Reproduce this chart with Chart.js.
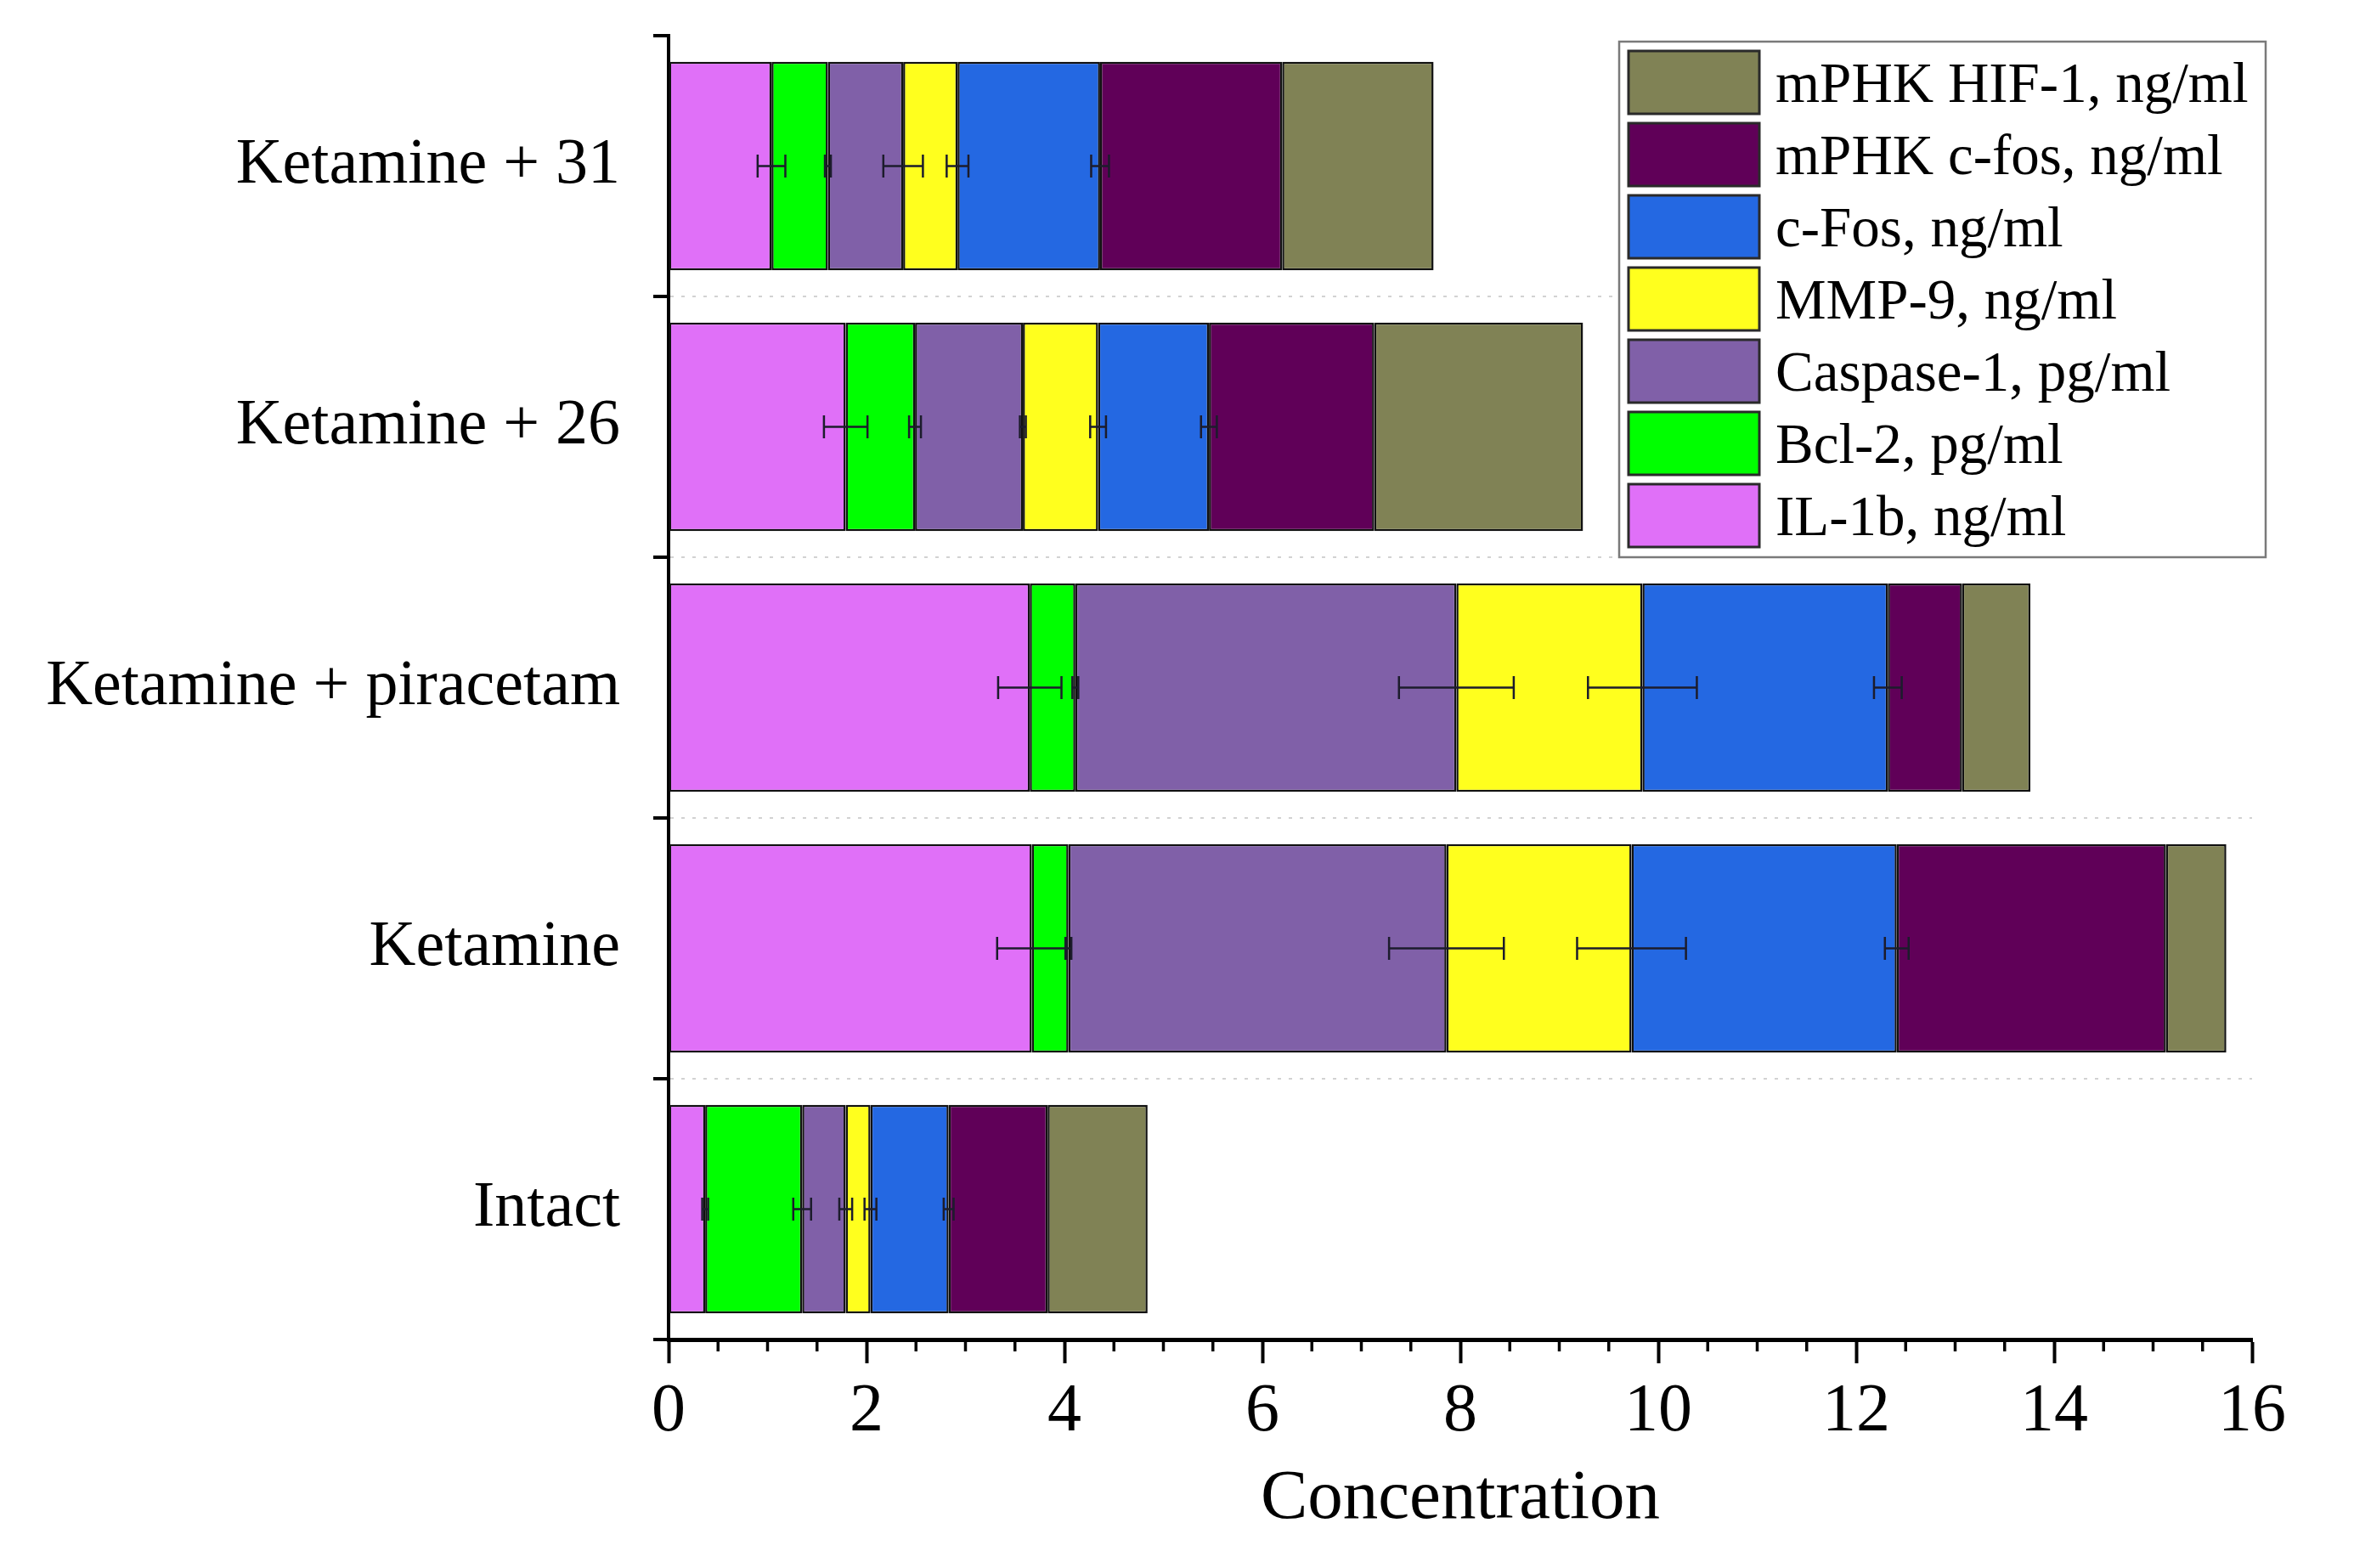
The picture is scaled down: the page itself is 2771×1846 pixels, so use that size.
<!DOCTYPE html>
<html>
<head>
<meta charset="utf-8">
<script src="https://cdn.jsdelivr.net/npm/chart.js@4.4.1/dist/chart.umd.min.js"></script>
<style>
html,body{margin:0;padding:0;background:#ffffff;overflow:hidden}
canvas{display:block}
</style>
</head>
<body>
<canvas id="chart" width="2771" height="1846" style="width:2771px;height:1846px"></canvas>
<script>
// ---------- data ----------
const categories = ['Ketamine + 31', 'Ketamine + 26', 'Ketamine + piracetam', 'Ketamine', 'Intact'];
const seriesNames = ['IL-1b, ng/ml', 'Bcl-2, pg/ml', 'Caspase-1, pg/ml', 'MMP-9, ng/ml', 'c-Fos, ng/ml', 'mPHK c-fos, ng/ml', 'mPHK HIF-1, ng/ml'];
const il1b      = [1.04, 1.79, 3.65, 3.67, 0.37];
const bcl2      = [0.57, 0.70, 0.46, 0.37, 0.98];
const caspase1  = [0.76, 1.09, 3.85, 3.82, 0.44];
const mmp9      = [0.55, 0.76, 1.88, 1.87, 0.25];
const cfos      = [1.44, 1.12, 2.48, 2.68, 0.79];
const mrnaCfos  = [1.84, 1.67, 0.75, 2.72, 1.00];
const mrnaHif1  = [1.53, 2.11, 0.69, 0.61, 1.01];
const il1bErr     = [0.14, 0.22, 0.32, 0.35, 0.03];
const bcl2Err     = [0.03, 0.06, 0.03, 0.03, 0.09];
const caspase1Err = [0.20, 0.03, 0.58, 0.58, 0.065];
const mmp9Err     = [0.11, 0.08, 0.55, 0.55, 0.06];
const cfosErr     = [0.09, 0.08, 0.14, 0.12, 0.05];
const xTickValues = [0, 2, 4, 6, 8, 10, 12, 14, 16];
const xTitle = 'Concentration';

const seriesValues = [il1b, bcl2, caspase1, mmp9, cfos, mrnaCfos, mrnaHif1];
const seriesErrors = [il1bErr, bcl2Err, caspase1Err, mmp9Err, cfosErr, null, null];

// ---------- styles ----------
const seriesColors = ['#E070F8', '#00FF00', '#8060A8', '#FFFF1E', '#2468E2', '#600058', '#808255'];
const FONT = "'Liberation Serif', 'Times New Roman', serif";

const datasets = seriesValues.map((vals, i) => ({
  label: seriesNames[i],
  data: vals,
  backgroundColor: seriesColors[i],
  borderColor: '#111111',
  borderWidth: 2.5,
  borderSkipped: false,
  barPercentage: 0.8,
  categoryPercentage: 1.0
}));

// error bars at the cumulative end of each stacked segment
const errorBarPlugin = {
  id: 'errorBars',
  afterDatasetsDraw(chart) {
    const {ctx, scales: {x, y}} = chart;
    ctx.save();
    ctx.strokeStyle = '#1c1c2c';
    ctx.lineWidth = 2.5;
    seriesErrors.forEach((errs, si) => {
      if (!errs) return;
      categories.forEach((c, ci) => {
        let end = 0;
        for (let k = 0; k <= si; k++) end += seriesValues[k][ci];
        const e = errs[ci];
        const x1 = x.getPixelForValue(end - e);
        const x2 = x.getPixelForValue(end + e);
        const py = y.getPixelForValue(ci);
        const h = 13.5;
        ctx.beginPath();
        ctx.moveTo(x1, py); ctx.lineTo(x2, py);
        ctx.moveTo(x1, py - h); ctx.lineTo(x1, py + h);
        ctx.moveTo(x2, py - h); ctx.lineTo(x2, py + h);
        ctx.stroke();
      });
    });
    ctx.restore();
  }
};

// minor ticks on the x axis
const minorTickPlugin = {
  id: 'minorTicks',
  afterDraw(chart) {
    const {ctx, scales: {x}} = chart;
    const y0 = x.top;
    ctx.save();
    ctx.strokeStyle = '#000000';
    ctx.lineWidth = 3.5;
    for (let v = x.min; v <= x.max + 1e-9; v += 0.5) {
      if (Math.abs(v / 2 - Math.round(v / 2)) < 1e-9) continue;
      const px = x.getPixelForValue(v);
      ctx.beginPath();
      ctx.moveTo(px, y0);
      ctx.lineTo(px, y0 + 14);
      ctx.stroke();
    }
    ctx.restore();
  }
};

// boxed legend inside the plot area (reverse order, as in the reference)
const boxLegendPlugin = {
  id: 'boxLegend',
  afterDraw(chart) {
    const {ctx} = chart;
    const left = 1906, top = 49, right = 2667, bottom = 656;
    ctx.save();
    ctx.fillStyle = '#ffffff';
    ctx.fillRect(left, top, right - left, bottom - top);
    ctx.strokeStyle = '#7a7a7a';
    ctx.lineWidth = 2.5;
    ctx.strokeRect(left, top, right - left, bottom - top);
    const order = seriesNames.map((n, i) => i).reverse();
    ctx.font = '67px ' + FONT;
    ctx.textBaseline = 'middle';
    ctx.textAlign = 'left';
    order.forEach((si, k) => {
      const sy = 60 + k * 85;
      ctx.fillStyle = seriesColors[si];
      ctx.fillRect(1917, sy, 154, 74);
      ctx.strokeStyle = '#2a2a2a';
      ctx.lineWidth = 3;
      ctx.strokeRect(1917, sy, 154, 74);
      ctx.fillStyle = '#000000';
      ctx.fillText(seriesNames[si], 2090, sy + 37 + 5);
    });
    ctx.restore();
  }
};

new Chart(document.getElementById('chart'), {
  type: 'bar',
  data: { labels: categories, datasets: datasets },
  options: {
    indexAxis: 'y',
    responsive: false,
    animation: false,
    devicePixelRatio: 1,
    layout: { padding: { top: 42, right: 120, left: 0, bottom: 0 } },
    plugins: {
      legend: { display: false },
      tooltip: { enabled: false },
      title: { display: false }
    },
    scales: {
      x: {
        type: 'linear',
        stacked: true,
        min: 0,
        max: 16,
        afterBuildTicks: (s) => { s.ticks = xTickValues.map(v => ({ value: v })); },
        afterFit: (s) => { s.height = 269; s.paddingLeft = 0; s.paddingRight = 0; },
        ticks: {
          font: { family: FONT, size: 80 },
          color: '#000000',
          padding: 10,
          maxRotation: 0,
          autoSkip: false
        },
        grid: {
          display: true,
          drawOnChartArea: false,
          drawTicks: true,
          tickLength: 28,
          tickWidth: 4,
          tickColor: '#000000',
          tickBorderDash: []
        },
        border: { display: true, color: '#000000', width: 5 },
        title: {
          display: true,
          text: xTitle,
          font: { family: FONT, size: 83 },
          color: '#000000',
          padding: { top: 0, bottom: 31 }
        }
      },
      y: {
        type: 'category',
        stacked: true,
        afterFit: (s) => { s.width = 787; s.paddingTop = 0; s.paddingBottom = 0; },
        ticks: {
          font: { family: FONT, size: 76 },
          color: '#000000',
          padding: 39
        },
        grid: {
          display: true,
          offset: true,
          drawOnChartArea: true,
          drawTicks: true,
          tickLength: 18,
          tickWidth: 4,
          tickColor: '#000000',
          tickBorderDash: [],
          lineWidth: 2,
          color: (c) => (c.index === 0 || c.index === categories.length) ? 'rgba(0,0,0,0)' : '#d2d2d2'
        },
        border: { display: true, color: '#000000', width: 4, dash: [4, 9] }
      }
    }
  },
  plugins: [errorBarPlugin, minorTickPlugin, boxLegendPlugin]
});
</script>
</body>
</html>
